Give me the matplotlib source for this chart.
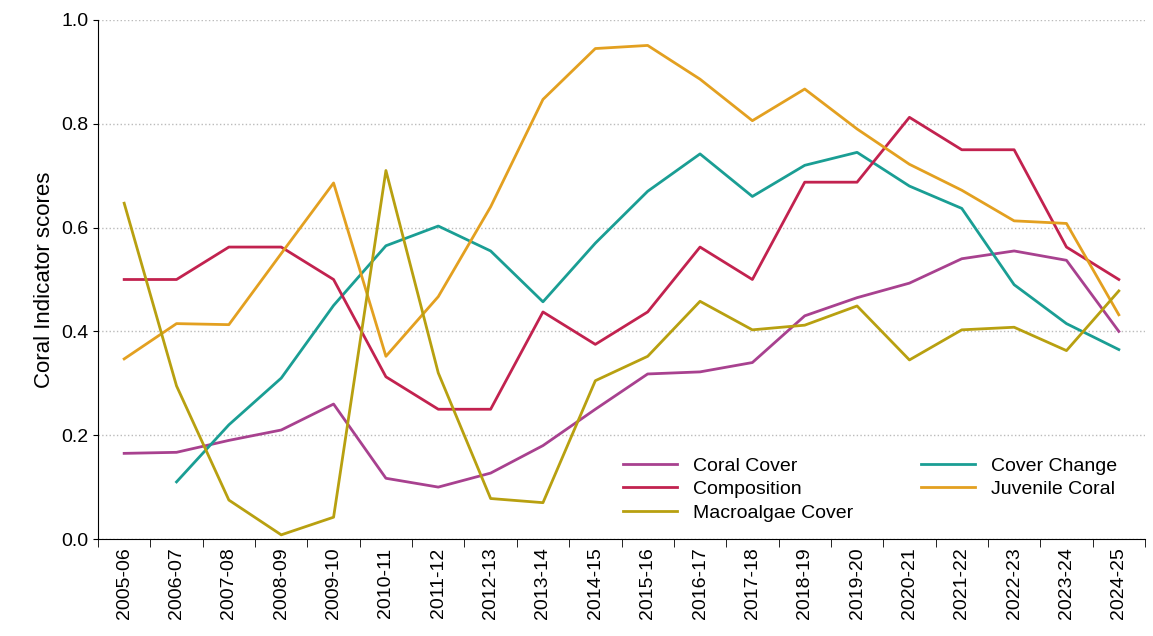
import matplotlib
matplotlib.use("Agg")
import matplotlib.pyplot as plt

years = ["2005-06","2006-07","2007-08","2008-09","2009-10","2010-11","2011-12","2012-13","2013-14","2014-15",
         "2015-16","2016-17","2017-18","2018-19","2019-20","2020-21","2021-22","2022-23","2023-24","2024-25"]
coral_cover = [0.165,0.167,0.19,0.21,0.26,0.117,0.10,0.127,0.18,0.25,0.318,0.322,0.34,0.43,0.465,0.493,0.54,0.555,0.537,0.40]
cover_change = [None,0.11,0.22,0.31,0.45,0.565,0.603,0.555,0.457,0.57,0.67,0.742,0.66,0.72,0.745,0.68,0.637,0.49,0.415,0.365]
composition = [0.5,0.5,0.5625,0.5625,0.5,0.3125,0.25,0.25,0.4375,0.375,0.4375,0.5625,0.5,0.6875,0.6875,0.8125,0.75,0.75,0.5625,0.5]
juvenile = [0.347,0.415,0.413,0.55,0.686,0.352,0.467,0.64,0.847,0.945,0.951,0.886,0.806,0.867,0.79,0.722,0.672,0.613,0.608,0.432]
macroalgae = [0.647,0.295,0.075,0.008,0.042,0.71,0.32,0.078,0.07,0.305,0.352,0.458,0.403,0.412,0.449,0.345,0.403,0.408,0.363,0.478]

plt.rcParams['font.family'] = ['Liberation Sans', 'DejaVu Sans']
fig = plt.figure(figsize=(11.53, 6.36), dpi=100)
ax = fig.add_axes([98/1153, 1-539/636, 1047/1153, 519/636])
x = list(range(len(years)))
cc = [(i, v) for i, v in zip(x, cover_change) if v is not None]
l1, = ax.plot(x, coral_cover, color="#a8418f", lw=2, label="Coral Cover")
l2, = ax.plot([p[0] for p in cc], [p[1] for p in cc], color="#1a9e94", lw=2, label="Cover Change")
l3, = ax.plot(x, composition, color="#c2224f", lw=2, label="Composition")
l4, = ax.plot(x, juvenile, color="#e3a020", lw=2, label="Juvenile Coral")
l5, = ax.plot(x, macroalgae, color="#b8a010", lw=2, label="Macroalgae Cover")
ax.set_ylim(0, 1.0)
ax.set_xlim(-0.5, len(years)-0.5)
ax.set_yticks([0,0.2,0.4,0.6,0.8,1.0])
ax.set_yticklabels(["0.0","0.2","0.4","0.6","0.8","1.0"], fontsize=14)
ax.set_xticks(x)
ax.set_xticklabels(years, rotation=90, fontsize=14)
ax.set_xticks([i-0.5 for i in range(len(years)+1)], minor=True)
ax.tick_params(axis='x', which='major', length=0, pad=6)
ax.tick_params(axis='x', which='minor', length=6)
ax.yaxis.grid(True, ls=":", color="#bbbbbb", lw=1)
ax.set_axisbelow(True)
for s in ["top", "right"]:
    ax.spines[s].set_visible(False)
ax.set_ylabel("Coral Indicator scores", fontsize=16)
handles = [l1, l3, l5, l2, l4]
ax.legend(handles, [h.get_label() for h in handles], ncol=2, loc="lower right",
          bbox_to_anchor=(0.99, 0.0), frameon=False, fontsize=14,
          handlelength=2.8, columnspacing=3.5, labelspacing=0.3)
fig.savefig("out.png")
